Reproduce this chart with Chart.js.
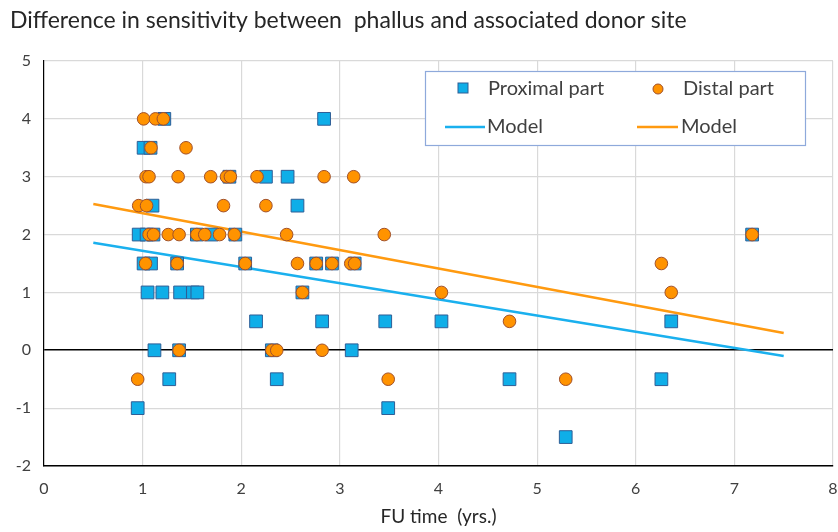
<!DOCTYPE html>
<html>
<head>
<meta charset="utf-8">
<script src="https://cdn.jsdelivr.net/npm/chart.js@4"></script>
<style>
html,body{margin:0;padding:0;background:#fff;}
#wrap{width:838px;height:532px;position:relative;}
</style>
</head>
<body>
<div id="wrap"><canvas id="c" width="838" height="532"></canvas></div>
<script>
const titleText = "Difference in sensitivity between  phallus and associated donor site";
const xAxisTitle = "FU time  (yrs.)";
const xTicks = [0,1,2,3,4,5,6,7,8];
const yTicks = [-2,-1,0,1,2,3,4,5];

// Proximal part (squares): FU time, difference
const proximalX = [1.22,2.84, 1.01,1.08, 1.88,2.25,2.47, 1.10,2.57,
  0.96,1.04,1.11,1.55,1.70,1.94,7.18,
  1.01,1.085,1.35,2.04,2.76,2.92,3.15,
  1.05,1.20,1.38,1.51,1.555,2.62,
  2.15,2.82,3.46,4.03,6.36,
  1.12,1.37,2.31,3.12,
  1.27,2.36,4.72,6.26,
  0.95,3.49,
  5.29];
const proximalY = [4,4, 3.5,3.5, 3,3,3, 2.5,2.5,
  2,2,2,2,2,2,2,
  1.5,1.5,1.5,1.5,1.5,1.5,1.5,
  1,1,1,1,1,1,
  0.5,0.5,0.5,0.5,0.5,
  0,0,0,0,
  -0.5,-0.5,-0.5,-0.5,
  -1,-1,
  -1.5];

// Distal part (circles)
const distalX = [1.01,1.13,1.21, 1.085,1.44,
  1.035,1.065,1.36,1.69,1.85,1.89,2.16,2.84,3.14,
  0.96,1.04,1.82,2.25,
  1.065,1.11,1.26,1.37,1.55,1.63,1.78,1.93,2.46,3.45,7.18,
  1.03,1.35,2.04,2.57,2.76,2.92,3.11,3.15,6.26,
  2.62,4.03,6.36,
  4.72,
  1.37,2.31,2.36,2.82,
  0.95,3.49,5.29];
const distalY = [4,4,4, 3.5,3.5,
  3,3,3,3,3,3,3,3,3,
  2.5,2.5,2.5,2.5,
  2,2,2,2,2,2,2,2,2,2,2,
  1.5,1.5,1.5,1.5,1.5,1.5,1.5,1.5,1.5,
  1,1,1,
  0.5,
  0,0,0,0,
  -0.5,-0.5,-0.5];

// Model lines (end points)
const modelProxX = [0.5, 7.5];
const modelProxY = [1.86, -0.10];
const modelDistX = [0.5, 7.5];
const modelDistY = [2.53, 0.30];

const toPts = (xs, ys) => xs.map((x, i) => ({x: x, y: ys[i]}));

const BLUE_FILL = '#0FAEE8';
const BLUE_EDGE = '#2F5E96';
const ORANGE_FILL = '#FF9300';
const ORANGE_EDGE = '#A0502A';
const BLUE_LINE = '#1AB0EE';
const ORANGE_LINE = '#FF9A10';
const FONT = "Lato, 'Open Sans', sans-serif";
const PLOT_RIGHT = 833;

const areaPlugin = {
  id: 'areaFix',
  afterLayout(chart) {
    const x = chart.scales.x;
    x.right = PLOT_RIGHT;
    x.width = PLOT_RIGHT - x.left;
    x.configure();
    chart.chartArea.right = PLOT_RIGHT;
    chart.chartArea.width = PLOT_RIGHT - chart.chartArea.left;
  }
};

const legendPlugin = {
  id: 'customLegend',
  afterDraw(chart) {
    const ctx = chart.ctx;
    ctx.save();
    // title
    ctx.fillStyle = '#262626';
    ctx.font = "23px " + FONT;
    ctx.textBaseline = 'middle';
    ctx.textAlign = 'left';
    ctx.fillText(titleText, 10, 21);
    // legend box
    const L = 425, T = 71, R = 805, B = 145;
    ctx.fillStyle = '#ffffff';
    ctx.fillRect(L, T, R - L, B - T);
    ctx.strokeStyle = '#8EA9DB';
    ctx.lineWidth = 1.2;
    ctx.strokeRect(L + 0.5, T + 0.5, R - L, B - T);
    ctx.font = "20px " + FONT;
    // proximal marker
    ctx.fillStyle = BLUE_FILL; ctx.strokeStyle = BLUE_EDGE; ctx.lineWidth = 1;
    ctx.fillRect(458, 83, 10, 10); ctx.strokeRect(458, 83, 10, 10);
    ctx.fillStyle = '#404040';
    ctx.fillText('Proximal part', 488, 89);
    // distal marker
    ctx.beginPath(); ctx.arc(658, 89, 5, 0, Math.PI * 2);
    ctx.fillStyle = ORANGE_FILL; ctx.fill(); ctx.strokeStyle = ORANGE_EDGE; ctx.stroke();
    ctx.fillStyle = '#404040';
    ctx.fillText('Distal part', 683, 89);
    // model lines
    ctx.lineWidth = 2.5;
    ctx.strokeStyle = BLUE_LINE;
    ctx.beginPath(); ctx.moveTo(445, 127); ctx.lineTo(485, 127); ctx.stroke();
    ctx.fillText('Model', 487, 127);
    ctx.strokeStyle = ORANGE_LINE;
    ctx.beginPath(); ctx.moveTo(637, 127); ctx.lineTo(678, 127); ctx.stroke();
    ctx.fillText('Model', 681, 127);
    ctx.restore();
  }
};

new Chart(document.getElementById('c'), {
  type: 'scatter',
  data: {
    datasets: [
      {
        type: 'line', label: 'Model', data: toPts(modelProxX, modelProxY),
        borderColor: BLUE_LINE, borderWidth: 2.5, pointRadius: 0, fill: false, order: 4
      },
      {
        type: 'line', label: 'Model', data: toPts(modelDistX, modelDistY),
        borderColor: ORANGE_LINE, borderWidth: 2.5, pointRadius: 0, fill: false, order: 3
      },
      {
        label: 'Proximal part', data: toPts(proximalX, proximalY),
        pointStyle: 'rect', pointRadius: 9, backgroundColor: BLUE_FILL,
        borderColor: BLUE_EDGE, borderWidth: 1, order: 2
      },
      {
        label: 'Distal part', data: toPts(distalX, distalY),
        pointStyle: 'circle', pointRadius: 6.3, backgroundColor: ORANGE_FILL,
        borderColor: ORANGE_EDGE, borderWidth: 1, order: 1
      }
    ]
  },
  options: {
    responsive: false,
    animation: false,
    layout: { padding: { top: 61, right: 5, left: 0, bottom: 0 } },
    plugins: { legend: { display: false }, tooltip: { enabled: false }, title: { display: false } },
    scales: {
      x: {
        type: 'linear', min: 0, max: 8,
        afterBuildTicks: (s) => { s.ticks = xTicks.map(v => ({value: v})); },
        afterFit: (s) => { s.height = 66; s.paddingRight = 0; s.paddingLeft = 0; },
        grid: { color: '#D9D9D9', lineWidth: 1.2, drawTicks: false },
        border: { color: '#000000', width: 1.5 },
        ticks: { color: '#404040', padding: 13, font: { family: FONT, size: 16 } },
        title: { display: true, text: xAxisTitle, color: '#262626', padding: { top: 2 },
                 font: { family: FONT, size: 19 } }
      },
      y: {
        type: 'linear', min: -2, max: 5,
        afterBuildTicks: (s) => { s.ticks = yTicks.map(v => ({value: v})); },
        afterFit: (s) => { s.width = 44; },
        grid: {
          color: (c) => c.tick && c.tick.value === 0 ? '#000000' : '#D9D9D9',
          lineWidth: (c) => c.tick && c.tick.value === 0 ? 1.6 : 1.2,
          drawTicks: false
        },
        border: { color: '#000000', width: 1.2 },
        ticks: { color: '#404040', padding: 13, font: { family: FONT, size: 16 } }
      }
    }
  },
  plugins: [areaPlugin, legendPlugin]
});
</script>
</body>
</html>
